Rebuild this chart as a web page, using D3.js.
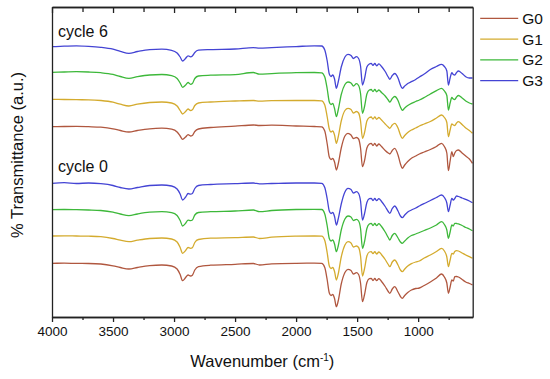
<!DOCTYPE html>
<html>
<head>
<meta charset="utf-8">
<script src="https://cdn.jsdelivr.net/npm/d3@7"></script>
<style>
  body { margin: 0; background: #fff; }
  text { font-family: "Liberation Sans", Arial, sans-serif; fill: #111; }
</style>
</head>
<body>
<div id="my_dataviz"></div>
<script>
// FTIR spectra, cycle 6 (top four) and cycle 0 (bottom four)

// wavenumbers (cm-1) shared by every spectrum
var wavenumbers = [4000, 3900, 3800, 3700, 3600, 3500, 3440, 3370, 3300, 3200,
  3100, 3020, 2975, 2950, 2930, 2905, 2885, 2865, 2850, 2830,
  2800, 2700, 2500, 2350, 2300, 2200, 2000, 1850, 1790, 1765,
  1745, 1728, 1714, 1700, 1685, 1670, 1655, 1630, 1600, 1575,
  1550, 1530, 1506, 1488, 1472, 1456, 1440, 1420, 1400, 1385,
  1370, 1355, 1340, 1322, 1300, 1270, 1245, 1232, 1212, 1192,
  1165, 1145, 1130, 1110, 1085, 1055, 1020, 990, 950, 900,
  850, 808, 785, 765, 752, 738, 724, 712, 700, 685,
  670, 640, 610, 580, 555];

// transmittance (a.u., stacked as plotted)
var g3Cycle6 = [270.3, 270.8, 271.2, 270.7, 269.7, 267.8, 265.7, 263.7, 265.5, 267.4,
  267.8, 266.7, 264, 260, 256, 258.7, 261.2, 260.2, 261, 264.5,
  266.8, 267.4, 268, 269.4, 268.8, 269.4, 270.4, 271.2, 271, 267,
  256, 243, 240.5, 242, 238, 228.7, 235, 250, 260, 262.7,
  261.5, 258.5, 260.3, 258.5, 251, 232, 238, 250, 253, 253.7,
  251.7, 253.5, 251.2, 253.2, 250.5, 245.5, 240, 237.7, 241.5, 243.5,
  239, 232, 228.7, 231, 233.5, 235.3, 237.5, 240, 243, 247.5,
  250.5, 252.7, 250.5, 246, 232, 239, 244.3, 242.5, 242, 244.5,
  246, 243.5, 240.3, 239, 239];
var g2Cycle6 = [244.7, 245, 245.3, 245, 244.3, 242.6, 240.5, 238.7, 240.3, 242,
  242.5, 241.3, 238.5, 234, 229.7, 232, 234.5, 232.7, 233.5, 238.5,
  241, 241.8, 242.4, 244.5, 242.8, 243.4, 244.3, 244.5, 244.2, 240,
  228, 215, 212.5, 213.5, 208.5, 200.3, 207, 222.5, 232.5, 235,
  234, 231, 233.3, 231.5, 223.5, 203.7, 210, 223, 227, 227.5,
  225.5, 227.5, 225.2, 227, 224.5, 221, 217, 215, 218.5, 220.5,
  216.5, 210, 206.7, 209, 211.5, 213.7, 215.5, 217, 219.5, 223,
  226.3, 228.7, 226, 221.5, 207, 214, 219.5, 218, 217.5, 220,
  221.5, 219, 216, 214, 213];
var g1Cycle6 = [217.7, 217.5, 217.3, 217.2, 216.5, 214.8, 212.8, 211, 212.8, 214.5,
  215, 214, 211, 206.5, 203, 205.5, 208, 206.5, 207.2, 211.5,
  214, 215, 216, 216.5, 215.8, 216.3, 216.5, 216.5, 216.2, 212,
  200, 188, 185, 186, 182, 173.7, 180, 196, 206.5, 208.7,
  207.5, 204, 205.5, 204, 196, 178.7, 184, 196, 199.5, 200,
  198, 200, 197.7, 199.5, 197, 193, 190, 188.7, 192, 193.7,
  189, 182, 178.7, 181.5, 184.5, 187, 189, 191, 193, 195.5,
  199, 202, 199.5, 194.5, 180.3, 187, 193, 192, 191.5, 194,
  195.3, 192.5, 189, 186.5, 183.7];
var g0Cycle6 = [190.3, 190.5, 190.6, 190.3, 189.8, 188.2, 186.5, 185, 186.5, 188.2,
  188.8, 187.8, 185, 181, 177.7, 180, 182.3, 181, 181.5, 185.5,
  188, 189.5, 190.8, 192, 191.5, 191.8, 191, 190.5, 190.2, 186,
  173, 160, 157.5, 158.5, 155, 147, 153, 169, 181, 183.7,
  182, 178.5, 179.5, 178, 169, 150.3, 156, 169, 173, 173.7,
  171.5, 173.5, 171, 173, 170.5, 166.5, 164, 163, 166.5, 168.7,
  162, 153, 148.7, 152, 155.5, 158.7, 161, 163, 165, 167.5,
  170.5, 173.7, 170.5, 164, 146.3, 156, 165.3, 160.3, 164, 166.5,
  167, 164, 161, 158, 153.7];
var g3Cycle0 = [133.7, 134.3, 133.5, 134, 133.3, 131.5, 129.5, 128, 129.5, 131.5,
  132, 131, 128, 123, 117, 120, 123.5, 122.8, 123.5, 128.5,
  131.5, 132.5, 133.3, 134, 133.2, 133.5, 134, 134, 133.7, 129.5,
  118, 106, 103.5, 104.5, 100.5, 92, 98, 113, 125, 128.7,
  127.5, 124, 125.3, 123.5, 116, 97, 103, 114.5, 118.3, 118.7,
  116.5, 118.5, 116.3, 118.3, 115.5, 110.5, 105.5, 103.7, 108.5, 111,
  106, 101, 99.3, 102, 105, 107, 109, 111, 113.5, 116.5,
  119.5, 122, 119.5, 114, 105.3, 112, 118.7, 117, 118.5, 121,
  120.5, 119, 117.7, 116, 114.3];
var g2Cycle0 = [107.3, 107.5, 107.3, 107, 106.5, 104.8, 103, 101.3, 103, 104.8,
  105.3, 104.3, 101.5, 96.5, 91, 93.8, 96.8, 96.3, 97, 102,
  104.5, 105.3, 106, 107, 105.3, 106.5, 107.5, 107.7, 107.5, 103,
  91, 78.5, 76, 77, 73, 65.3, 71, 87, 98, 101,
  100, 96.5, 97.7, 96, 88.5, 68.7, 75, 88.5, 93, 93.7,
  91.5, 93.5, 91.3, 93.3, 90.5, 85, 79.5, 77, 81.5, 83.7,
  79, 75, 73.7, 76, 79, 81.5, 83, 84.5, 86.5, 89,
  92, 95.3, 92.5, 87, 78.7, 85, 92, 91, 93.7, 93.5,
  93.2, 91.5, 89.5, 88, 86.3];
var g1Cycle0 = [81, 81.2, 81, 80.8, 80.3, 78.5, 76.8, 75.3, 76.8, 78.5,
  79, 78, 75, 69.5, 63.7, 66.5, 69.5, 68.7, 69.3, 74.5,
  77.5, 78.8, 79.3, 80, 78.5, 79.8, 80.8, 81, 80.8, 76.5,
  64, 51, 48.5, 49.5, 45.5, 37, 43, 60, 72, 75.3,
  74, 70, 71, 69.5, 61, 41, 48, 61, 65, 65.3,
  63.3, 65.3, 63, 65, 62.3, 57.5, 52.5, 50.3, 55, 57,
  52, 47, 45.3, 48, 51, 53.3, 55, 56, 59, 62,
  65.5, 68.7, 66, 60, 50.3, 57, 63.7, 63, 65.5, 66.3,
  66, 64, 62, 60.3, 58.7];
var g0Cycle0 = [53.7, 53.8, 53.6, 53.5, 53, 51.2, 49.5, 48, 49.5, 51.3,
  52, 51, 48, 42.5, 36.3, 39.5, 42, 41, 41.8, 47,
  50.3, 51.8, 52.7, 53.5, 52, 53.2, 53.7, 53.8, 53.6, 49.5,
  37, 24, 21.5, 22.5, 18.5, 10.3, 16, 33, 44.5, 47.7,
  46.5, 43, 44.3, 42.5, 34, 15.3, 22, 34.5, 38.3, 38.7,
  36.5, 38.5, 36.3, 38.3, 35.5, 30.5, 25.5, 23.7, 28, 30.3,
  25, 20.5, 18.7, 21.5, 24.5, 27, 28.5, 29, 31.5, 35,
  39, 43, 40, 34, 23.7, 30, 37, 36, 40.3, 40.5,
  40, 37.5, 35, 33.5, 32];

var seriesNames = ["G0", "G1", "G2", "G3"];
var seriesColors = ["#b0573f", "#d4ab2e", "#3db83a", "#4444d4"];
var cycleLabels = ["cycle 6", "cycle 0"];
var majorTicks = [4000, 3500, 3000, 2500, 2000, 1500, 1000];
var minorTicks = [3750, 3250, 2750, 2250, 1750, 1250, 750];

// set the dimensions and margins of the graph
var margin = {top: 7, right: 77.3, bottom: 62, left: 52},
  width = 550 - margin.left - margin.right,
  height = 379 - margin.top - margin.bottom;

var svg = d3.select("#my_dataviz")
  .append("svg")
    .attr("width", 550)
    .attr("height", 379)
  .append("g")
    .attr("transform", "translate(" + margin.left + "," + margin.top + ")");

var x = d3.scaleLinear()
  .domain([4000, 553])
  .range([0, width]);

var y = d3.scaleLinear()
  .domain([0, 310])
  .range([height, 0]);

// spectra, one line each
var spectra = [
  {name: "G0", values: g0Cycle6}, {name: "G1", values: g1Cycle6},
  {name: "G2", values: g2Cycle6}, {name: "G3", values: g3Cycle6},
  {name: "G0", values: g0Cycle0}, {name: "G1", values: g1Cycle0},
  {name: "G2", values: g2Cycle0}, {name: "G3", values: g3Cycle0}
];

var color = d3.scaleOrdinal().domain(seriesNames).range(seriesColors);

var line = d3.line()
  .x(function(d, i) { return x(wavenumbers[i]) })
  .y(function(d) { return y(d) })
  .curve(d3.curveMonotoneX);

svg.selectAll(".spectrum")
  .data(spectra)
  .enter()
  .append("path")
    .attr("class", "spectrum")
    .attr("fill", "none")
    .attr("stroke", function(d) { return color(d.name) })
    .attr("stroke-width", 1.3)
    .attr("d", function(d) { return line(d.values) });

// axes: bottom with labels, top/left/right as frame
var axisColor = "#222";

var bottomAxis = svg.append("g")
  .attr("transform", "translate(0," + height + ")")
  .call(d3.axisBottom(x).tickValues(majorTicks).tickSize(5).tickSizeOuter(0)
    .tickPadding(4).tickFormat(d3.format("d")));
bottomAxis.selectAll("text")
  .style("font-size", "13.5px")
  .style("font-family", "'Liberation Sans', Arial, sans-serif")
  .attr("fill", "#111");

svg.append("g")
  .attr("transform", "translate(0," + height + ")")
  .call(d3.axisBottom(x).tickValues(minorTicks).tickSize(3).tickSizeOuter(0).tickFormat(""));

svg.append("g")
  .call(d3.axisTop(x).tickValues(majorTicks).tickSize(-6).tickSizeOuter(0).tickFormat(""));
svg.append("g")
  .call(d3.axisTop(x).tickValues(minorTicks).tickSize(-5).tickSizeOuter(0).tickFormat(""));

svg.append("g")
  .call(d3.axisLeft(y).ticks(0).tickSizeOuter(0));
svg.append("g")
  .attr("transform", "translate(" + width + ",0)")
  .call(d3.axisRight(y).ticks(0).tickSizeOuter(0));

svg.selectAll(".domain, .tick line")
  .attr("stroke", axisColor)
  .attr("stroke-width", 1.3);

// axis titles
var xTitle = svg.append("text")
  .attr("x", width / 2)
  .attr("y", height + 50)
  .attr("text-anchor", "middle")
  .style("font-size", "16.5px");
xTitle.append("tspan").text("Wavenumber (cm");
xTitle.append("tspan").attr("dy", -6).style("font-size", "10px").text("-1");
xTitle.append("tspan").attr("dy", 6).text(")");

svg.append("text")
  .attr("transform", "translate(" + (-29) + "," + (height / 2 - 7) + ") rotate(-90)")
  .attr("text-anchor", "middle")
  .style("font-size", "16.5px")
  .text("% Transmittance (a.u.)");

// group labels
svg.selectAll(".cycle")
  .data(cycleLabels)
  .enter()
  .append("text")
    .attr("class", "cycle")
    .attr("x", 6)
    .attr("y", function(d, i) { return i == 0 ? 30 : 165 })
    .style("font-size", "16px")
    .text(function(d) { return d });

// legend
var legend = svg.selectAll(".legend")
  .data(seriesNames)
  .enter()
  .append("g")
    .attr("class", "legend")
    .attr("transform", function(d, i) { return "translate(" + (width + 7.5) + "," + (11.3 + i * 20.8) + ")" });

legend.append("line")
  .attr("x1", 0)
  .attr("x2", 38)
  .attr("stroke", function(d) { return color(d) })
  .attr("stroke-width", 1.3);

legend.append("text")
  .attr("x", 42)
  .attr("dy", "0.36em")
  .style("font-size", "15.5px")
  .text(function(d) { return d });
</script>
</body>
</html>
